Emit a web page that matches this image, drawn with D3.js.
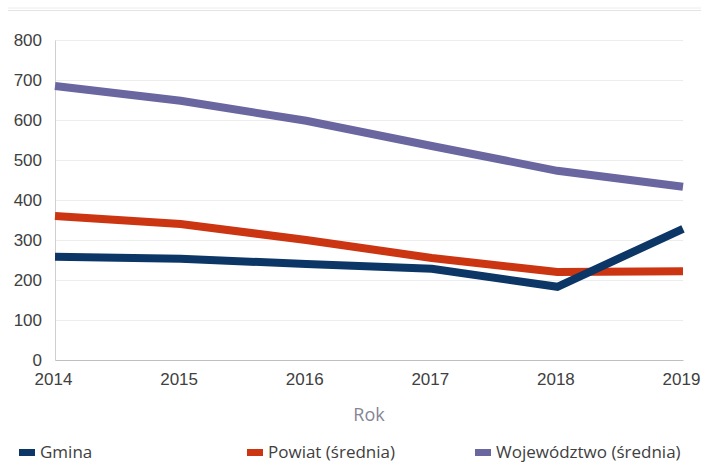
<!DOCTYPE html>
<html>
<head>
<meta charset="utf-8">
<script src="https://cdn.jsdelivr.net/npm/d3@7"></script>
<style>
  body { margin: 0; background: #fff; }
  svg { display: block; font-family: "Open Sans", "Liberation Sans", sans-serif; }
</style>
</head>
<body>
<div id="chart"></div>
<script>
// data
var years = [2014, 2015, 2016, 2017, 2018, 2019];
var gmina = [258, 253, 240, 228, 183, 328];
var powiat = [360, 340, 300, 255, 220, 222];
var wojewodztwo = [685, 648, 598, 535, 473, 433];
var yTicks = [0, 100, 200, 300, 400, 500, 600, 700, 800];
var seriesNames = ["Gmina", "Powiat (średnia)", "Województwo (średnia)"];
var seriesColors = ["#0c3666", "#cc3511", "#6a66a0"];

var width = 701;
var height = 462;
var plotLeft = 55, plotRight = 683, plotTop = 40, plotBottom = 360;

var svg = d3.select("#chart").append("svg")
	.attr("width", width)
	.attr("height", height);

// header rule (title cut off above)
svg.append("line").attr("x1", 8).attr("x2", width).attr("y1", 8).attr("y2", 8)
	.attr("stroke", "#ececec").attr("stroke-width", 1);
svg.append("line").attr("x1", 8).attr("x2", width).attr("y1", 10.5).attr("y2", 10.5)
	.attr("stroke", "#e4e4e4").attr("stroke-width", 1);

// scales
var x = d3.scalePoint().domain(years).range([plotLeft, plotRight]);
var y = d3.scaleLinear().domain([0, 800]).range([plotBottom, plotTop]);

// gridlines
svg.append("g").selectAll("line")
	.data(yTicks.filter(function (d) { return d > 0; }))
	.join("line")
	.attr("x1", plotLeft).attr("x2", plotRight)
	.attr("y1", function (d) { return y(d) + 0.5; })
	.attr("y2", function (d) { return y(d) + 0.5; })
	.attr("stroke", "#ececec");

// y axis
var yAxis = svg.append("g")
	.attr("transform", "translate(" + plotLeft + ",0)")
	.call(d3.axisLeft(y).tickValues(yTicks).tickSize(0).tickPadding(13));
yAxis.select(".domain").attr("stroke", "#cfcfcf");
yAxis.selectAll("text").attr("font-size", 17).attr("fill", "#404040");

// x axis
var xAxis = svg.append("g")
	.attr("transform", "translate(0," + plotBottom + ")")
	.call(d3.axisBottom(x).tickSize(0).tickPadding(13).tickFormat(d3.format("d")));
xAxis.select(".domain").attr("stroke", "#bfbfbf");
xAxis.selectAll("text").attr("font-size", 17).attr("fill", "#404040")
	.attr("dx", -2);

svg.append("text")
	.attr("x", 369)
	.attr("y", 421)
	.attr("text-anchor", "middle")
	.attr("font-size", 18)
	.attr("fill", "#858596")
	.text("Rok");

// lines
var line = d3.line()
	.x(function (d, i) { return x(years[i]); })
	.y(function (d) { return y(d); });

[wojewodztwo, powiat, gmina].forEach(function (s, k) {
	svg.append("path")
		.attr("d", line(s))
		.attr("fill", "none")
		.attr("stroke", seriesColors[2 - k])
		.attr("stroke-width", 8)
		.attr("stroke-linejoin", "miter");
});

// legend
var legendX = [19, 247, 475];
var legend = svg.append("g").selectAll("g")
	.data(seriesNames)
	.join("g")
	.attr("transform", function (d, i) { return "translate(" + legendX[i] + ",449)"; });
legend.append("rect")
	.attr("x", 0).attr("y", 0)
	.attr("width", 16).attr("height", 7)
	.attr("fill", function (d, i) { return seriesColors[i]; });
legend.append("text")
	.attr("x", 21).attr("y", 9)
	.attr("font-size", 17)
	.attr("fill", "#404040")
	.text(function (d) { return d; });
</script>
</body>
</html>
